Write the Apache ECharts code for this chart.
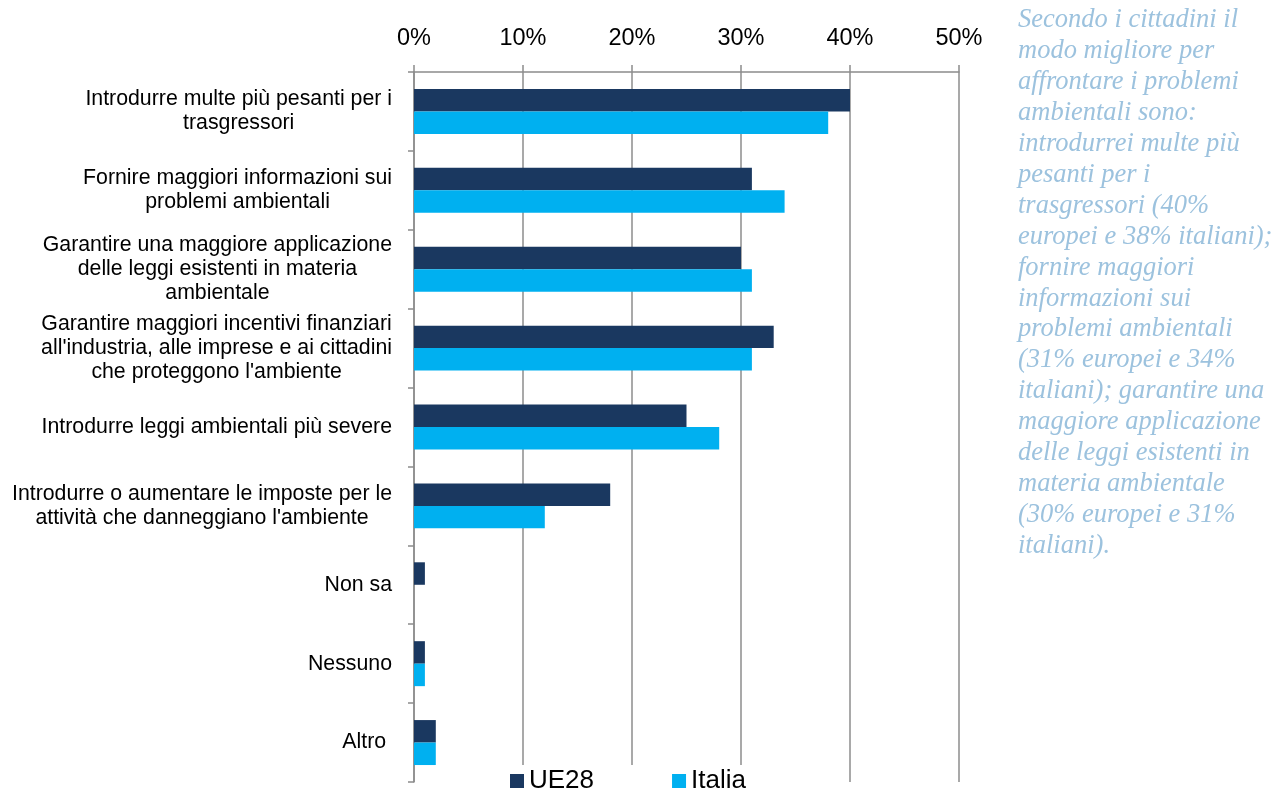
<!DOCTYPE html>
<html>
<head>
<meta charset="utf-8">
<script src="https://cdn.jsdelivr.net/npm/echarts@6/dist/echarts.min.js"></script>
<style>
html,body{margin:0;padding:0;background:#fff;}
#chart{width:1275px;height:791px;}
</style>
</head>
<body>
<div id="chart"></div>
<script>
const categories = [
  "Introdurre multe più pesanti per i\ntrasgressori",
  "Fornire maggiori informazioni sui\nproblemi ambientali",
  "Garantire una maggiore applicazione\ndelle leggi esistenti in materia\nambientale",
  "Garantire maggiori incentivi finanziari\nall'industria, alle imprese e ai cittadini\nche proteggono l'ambiente",
  "Introdurre leggi ambientali più severe",
  "Introdurre o aumentare le imposte per le\nattività che danneggiano l'ambiente",
  "Non sa",
  "Nessuno",
  "Altro "
];
const ue28 = [40, 31, 30, 33, 25, 18, 1, 1, 2];
const italia = [38, 34, 31, 31, 28, 12, 0, 1, 2];
const seriesNames = ["UE28", "Italia"];
const noteLines = [
  "Secondo i cittadini il",
  "modo migliore per",
  "affrontare i problemi",
  "ambientali sono:",
  "introdurrei multe più",
  "pesanti per i",
  "trasgressori (40%",
  "europei e 38% italiani);",
  "fornire maggiori",
  "informazioni sui",
  "problemi ambientali",
  "(31% europei e 34%",
  "italiani); garantire una",
  "maggiore applicazione",
  "delle leggi esistenti in",
  "materia ambientale",
  "(30% europei e 31%",
  "italiani)."
];

const chart = echarts.init(document.getElementById('chart'), null, {renderer: 'canvas'});
const gridColor = '#8c8c8c';
const font = 'Liberation Sans, Arial, sans-serif';

chart.setOption({
  animation: false,
  backgroundColor: '#fff',
  grid: {left: 414, right: 316, top: 72, bottom: 9, containLabel: false},
  legend: {
    data: seriesNames,
    left: 505,
    top: 765,
    padding: [3, 5, 5, 5],
    backgroundColor: '#fff',
    itemWidth: 14,
    itemHeight: 14,
    itemGap: 78,
    icon: 'rect',
    textStyle: {fontFamily: font, fontSize: 26, color: '#000', lineHeight: 26}
  },
  xAxis: {
    type: 'value',
    position: 'top',
    min: 0, max: 50, interval: 10,
    axisLine: {show: true, lineStyle: {color: gridColor, width: 1.5}},
    axisTick: {show: true, length: 7, lineStyle: {color: gridColor, width: 1.5}},
    splitLine: {show: true, lineStyle: {color: gridColor, width: 1.5}},
    axisLabel: {formatter: v => v + '%', fontFamily: font, fontSize: 23.5, color: '#000', margin: 21}
  },
  yAxis: {
    type: 'category',
    inverse: true,
    data: categories,
    axisLine: {show: true, lineStyle: {color: gridColor, width: 1.5}},
    axisTick: {show: true, length: 6, lineStyle: {color: gridColor, width: 1.5}},
    splitLine: {show: false},
    axisLabel: {
      margin: 22,
      formatter: v => v.split('\n').map(l => '{c|' + l + '}').join('\n'),
      rich: {c: {align: 'center', fontFamily: font, fontSize: 21.3, lineHeight: 24, color: '#000'}}
    }
  },
  series: [
    {name: seriesNames[0], type: 'bar', data: ue28, barGap: '0%', barCategoryGap: '43%', itemStyle: {color: '#1a3860'}},
    {name: seriesNames[1], type: 'bar', data: italia, barGap: '0%', barCategoryGap: '43%', itemStyle: {color: '#00b0f0'}}
  ],
  graphic: [{
    type: 'text',
    left: 1018,
    top: 5,
    style: {
      text: noteLines.join('\n'),
      font: 'italic 26.5px "Liberation Serif", "Times New Roman", serif',
      lineHeight: 30.9,
      fill: '#9cc2de'
    }
  }]
});
</script>
</body>
</html>
